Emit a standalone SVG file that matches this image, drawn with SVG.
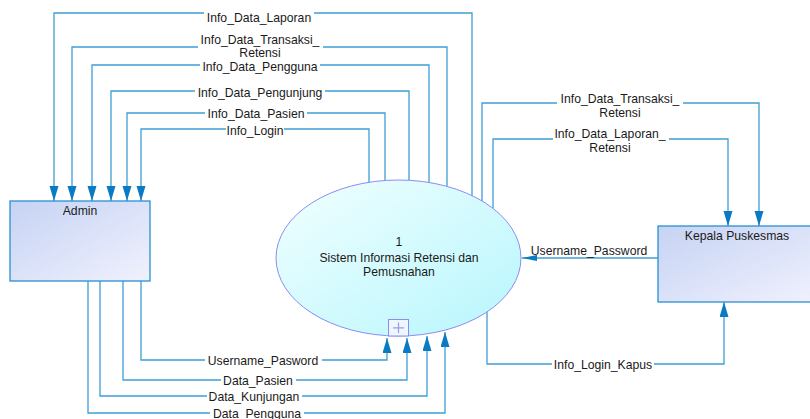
<svg xmlns="http://www.w3.org/2000/svg" width="810" height="419" viewBox="0 0 810 419">
<style>
.ln{fill:none;stroke:#3d9fd6;stroke-width:1.3}
.t{font-family:"Liberation Sans",Arial,sans-serif;font-size:12.2px;fill:#1a1a1a;text-anchor:middle}
.bg{fill:#ffffff}
.box{stroke:#2a90cf;stroke-width:1.3}
</style>
<defs>
<linearGradient id="gBox" x1="0" y1="0" x2="1" y2="1">
<stop offset="0" stop-color="#c6d3f4"/>
<stop offset="1" stop-color="#f0f1fd"/>
</linearGradient>
<linearGradient id="gEl" x1="0" y1="0" x2="1" y2="1">
<stop offset="0" stop-color="#f2ffff"/>
<stop offset="1" stop-color="#b6f6fd"/>
</linearGradient>
<marker id="ah" markerUnits="userSpaceOnUse" markerWidth="16" markerHeight="10" refX="15" refY="4.5" orient="auto">
<path d="M0,0 L15,4.5 L0,9 z" fill="#0a7bc2"/>
</marker>
<marker id="ahs" markerUnits="userSpaceOnUse" markerWidth="16" markerHeight="8" refX="15" refY="3" orient="auto">
<path d="M0,0 L15,3 L0,6 z" fill="#0a7bc2"/>
</marker>
</defs>

<g id="connectors">
<polyline class="ln" marker-end="url(#ah)" points="472,195.6 472,13 54,13 54,201"/>
<polyline class="ln" marker-end="url(#ah)" points="447,186.4 447,47 72,47 72,201"/>
<polyline class="ln" marker-end="url(#ah)" points="429,182.5 429,65 92,65 92,201"/>
<polyline class="ln" marker-end="url(#ah)" points="409,180.3 409,91 111,91 111,201"/>
<polyline class="ln" marker-end="url(#ah)" points="385,180.5 385,113 127,113 127,201"/>
<polyline class="ln" marker-end="url(#ah)" points="369,182.3 369,129 141,129 141,201"/>
<polyline class="ln" marker-end="url(#ah)" points="482,201 482,103 759,103 759,226"/>
<polyline class="ln" marker-end="url(#ah)" points="493,208.4 493,139 728,139 728,226"/>
<polyline class="ln" marker-end="url(#ahs)" points="658,258 522,258"/>
<polyline class="ln" marker-end="url(#ah)" points="487,312 487,364 724,364 724,302"/>
<polyline class="ln" marker-end="url(#ah)" points="141,281 141,360 387,360 387,338"/>
<polyline class="ln" marker-end="url(#ah)" points="123,281 123,380 407,380 407,338"/>
<polyline class="ln" marker-end="url(#ah)" points="100,281 100,396 427,396 427,336"/>
<polyline class="ln" marker-end="url(#ah)" points="88,281 88,413 445,413 445,332"/>

<g id="labels">
<rect class="bg" x="204" y="11" width="110" height="14"/>
<text class="t" x="259" y="22">Info_Data_Laporan</text>
<rect class="bg" x="198" y="33" width="125" height="27"/>
<text class="t" x="260" y="44">Info_Data_Transaksi_</text>
<text class="t" x="260" y="57">Retensi</text>
<rect class="bg" x="200" y="61" width="120" height="12"/>
<text class="t" x="260" y="71">Info_Data_Pengguna</text>
<rect class="bg" x="195" y="86" width="130" height="13"/>
<text class="t" x="260" y="96.5">Info_Data_Pengunjung</text>
<rect class="bg" x="205" y="107" width="102" height="13"/>
<text class="t" x="256" y="117.5">Info_Data_Pasien</text>
<rect class="bg" x="226" y="124" width="58" height="13"/>
<text class="t" x="255" y="134.5">Info_Login</text>
<rect class="bg" x="557" y="91" width="126" height="28"/>
<text class="t" x="620" y="102.5">Info_Data_Transaksi_</text>
<text class="t" x="620" y="116.5">Retensi</text>
<rect class="bg" x="553" y="126" width="116" height="28"/>
<text class="t" x="610" y="137.5">Info_Data_Laporan_</text>
<text class="t" x="610" y="151.5">Retensi</text>
<text class="t" x="589" y="254.5">Username_Password</text>
<rect class="bg" x="552" y="358" width="102" height="13"/>
<text class="t" x="603" y="368.5">Info_Login_Kapus</text>
<rect class="bg" x="205" y="354" width="117" height="13"/>
<text class="t" x="263" y="364.5">Username_Pasword</text>
<rect class="bg" x="221" y="374" width="75" height="13"/>
<text class="t" x="258" y="384.5">Data_Pasien</text>
<rect class="bg" x="207" y="390" width="95" height="13"/>
<text class="t" x="254" y="400.5">Data_Kunjungan</text>
<rect class="bg" x="210" y="407" width="94" height="13"/>
<text class="t" x="257" y="417.5">Data_Pengguna</text>
</g>
</g>

<g id="admin">
<rect class="box" x="10" y="201" width="140" height="80" fill="url(#gBox)"/>
<text class="t" x="80" y="214.5">Admin</text>
</g>

<g id="process1">
<ellipse cx="398.5" cy="258" rx="122.5" ry="78" fill="url(#gEl)" stroke="#8a8cf5" stroke-width="1"/>
<text class="t" x="399" y="245.5">1</text>
<text class="t" x="399" y="262">Sistem Informasi Retensi dan</text>
<text class="t" x="399" y="275.5">Pemusnahan</text>
<rect x="388.5" y="319.5" width="20" height="16.5" fill="#eef6ff" stroke="#8a8cf5" stroke-width="1"/>
<path d="M398.5,322.5 V333 M393,327.8 H404" stroke="#9a9cf0" stroke-width="1.2"/>
</g>

<g id="kepala">
<rect class="box" x="658" y="226" width="160" height="76" fill="url(#gBox)"/>
<text class="t" x="737" y="239.5">Kepala Puskesmas</text>
</g>
</svg>
